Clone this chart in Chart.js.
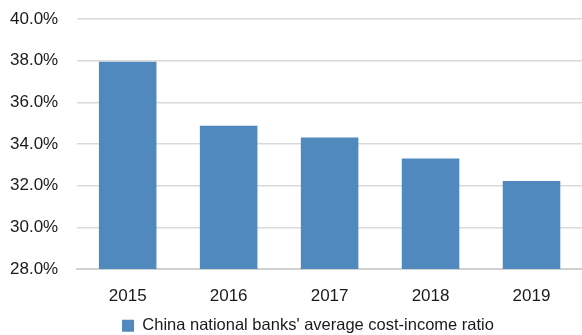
<!DOCTYPE html>
<html>
<head>
<meta charset="utf-8">
<script src="https://cdn.jsdelivr.net/npm/chart.js@4"></script>
<style>
  html, body { margin: 0; padding: 0; background: #fff; }
  #wrap { width: 582px; height: 335px; }
</style>
</head>
<body>
<div id="wrap"><canvas id="chart" width="582" height="335"></canvas></div>
<script>
// data
const years = ['2015', '2016', '2017', '2018', '2019'];
const costIncome = [37.95, 34.88, 34.32, 33.31, 32.23];
const seriesName = "China national banks' average cost-income ratio";
const yTicks = [28, 30, 32, 34, 36, 38, 40];

// nudge the legend a bit right, like the original
const legendShift = {
  id: 'legendShift',
  beforeDraw(chart) {
    const lg = chart.legend;
    if (lg && !lg._shifted) {
      lg.left += 13;
      lg.right += 13;
      lg._shifted = true;
    }
  },
};

const ctx = document.getElementById('chart').getContext('2d');
new Chart(ctx, {
  type: 'bar',
  data: {
    labels: years,
    datasets: [{
      label: seriesName,
      data: costIncome,
      backgroundColor: '#4f89bd',
      borderWidth: 0,
      categoryPercentage: 1,
      barPercentage: 0.57,
    }],
  },
  options: {
    responsive: false,
    animation: false,
    layout: { padding: { left: 8, right: 0, top: 19, bottom: -9 } },
    scales: {
      y: {
        min: yTicks[0],
        max: yTicks[yTicks.length - 1],
        afterBuildTicks: (axis) => { axis.ticks = yTicks.map(v => ({ value: v })); },
        ticks: {
          padding: 2,
          color: '#1a1a1a',
          font: { family: 'Liberation Sans, Arial, sans-serif', size: 17 },
          callback: (v) => v.toFixed(1) + '%',
        },
        // transparent tick marks just to keep the gap beside the labels
        grid: { color: '#d9d9d9', lineWidth: 1.5, drawTicks: true, tickLength: 17, tickColor: 'rgba(0,0,0,0)' },
        border: { display: false },
      },
      x: {
        afterFit: (axis) => { axis.height -= 6; },
        ticks: {
          padding: 17,
          color: '#1a1a1a',
          font: { family: 'Liberation Sans, Arial, sans-serif', size: 17 },
        },
        grid: { display: false, drawTicks: false },
        border: { display: true, color: '#d0d0d0', width: 2 },
      },
    },
    plugins: {
      legend: {
        position: 'bottom',
        labels: {
          boxWidth: 12,
          boxHeight: 12,
          padding: 0,
          color: '#1a1a1a',
          font: { family: 'Liberation Sans, Arial, sans-serif', size: 16.5 },
        },
      },
      tooltip: { enabled: false },
    },
  },
  plugins: [legendShift],
});
</script>
</body>
</html>
